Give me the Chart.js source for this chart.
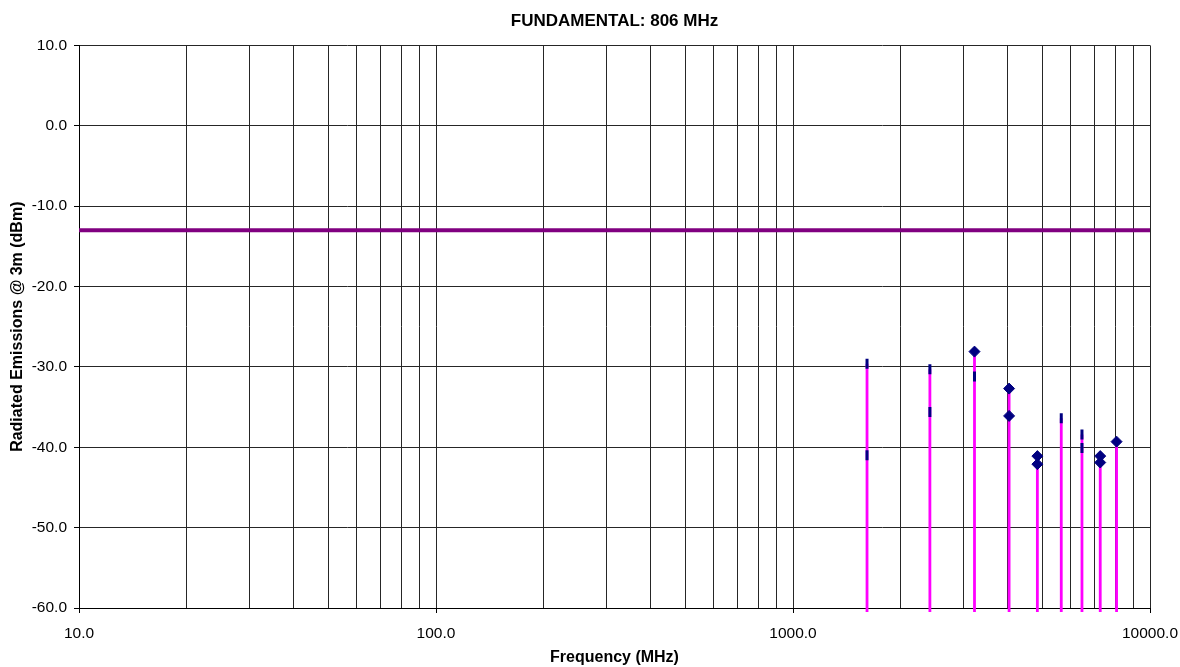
<!DOCTYPE html>
<html>
<head>
<meta charset="utf-8">
<title>FUNDAMENTAL: 806 MHz</title>
<script src="https://cdn.jsdelivr.net/npm/chart.js@4/dist/chart.umd.min.js"></script>
<style>
  html, body { margin: 0; padding: 0; background: #ffffff; }
  #wrap { width: 1180px; height: 667px; }
</style>
</head>
<body>
<div id="wrap"><canvas id="chart" width="1180" height="667"></canvas></div>
<script>
// Harmonics of the 806 MHz fundamental (MHz)
const harmonicsMHz = [1612, 2418, 3224, 4030, 4836, 5642, 6448, 7254, 8060];

// Readings shown with solid diamond markers (MHz, dBm)
const diamondFreqMHz = [3224, 4030, 4030, 4836, 4836, 7254, 7254, 8060];
const diamondLevel   = [-28.1, -32.7, -36.1, -41.1, -42.1, -41.1, -41.9, -39.3];

// Readings shown with short tick markers (MHz, dBm)
const tickFreqMHz = [1612, 1612, 2418, 2418, 3224, 5642, 6448, 6448];
const tickLevel   = [-29.6, -41.0, -30.3, -35.6, -31.2, -36.4, -38.4, -40.1];

// Emission limit (dBm) across the swept range
const limitFreqMHz = [10, 10000];
const limitLevel   = -13;

// Stems drop just past the bottom of the level axis
const stemFloor = -60.5;

// Axis ranges and tick values
const freqMin = 10, freqMax = 10000;
const levelMin = -60, levelMax = 10, levelStep = 10;
const freqGridMHz = [];
for (let d = 10; d < freqMax; d *= 10) {
  for (let m = 1; m < 10; m++) freqGridMHz.push(d * m);
}
freqGridMHz.push(freqMax);
const decadeLabels = [10, 100, 1000, 10000];

// Top of each stem is the highest reading at that harmonic
const allFreq = diamondFreqMHz.concat(tickFreqMHz);
const allLevel = diamondLevel.concat(tickLevel);
const stemTop = harmonicsMHz.map(f => {
  let best = -Infinity;
  allFreq.forEach((x, i) => { if (x === f && allLevel[i] > best) best = allLevel[i]; });
  return best;
});

const NAVY = '#000080';
const MAGENTA = '#ff00ff';
const PURPLE = '#800080';
const GRID = '#262626';

const stemSets = harmonicsMHz.map((f, i) => ({
  type: 'line',
  data: [{ x: f, y: stemTop[i] }, { x: f, y: stemFloor }],
  borderColor: MAGENTA,
  borderWidth: 2.8,
  pointRadius: 0,
  clip: false,
  order: 3
}));

const datasets = [
  {
    type: 'line',
    label: 'Limit',
    data: limitFreqMHz.map(x => ({ x: x, y: limitLevel })),
    borderColor: PURPLE,
    borderWidth: 4,
    pointRadius: 0,
    order: 4
  },
  ...stemSets,
  {
    type: 'scatter',
    label: 'Tick readings',
    data: tickFreqMHz.map((x, i) => ({ x: x, y: tickLevel[i] })),
    pointStyle: 'line',
    rotation: 90,
    pointRadius: 5,
    borderColor: NAVY,
    borderWidth: 3,
    order: 1
  },
  {
    type: 'scatter',
    label: 'Diamond readings',
    data: diamondFreqMHz.map((x, i) => ({ x: x, y: diamondLevel[i] })),
    pointStyle: 'rectRot',
    pointRadius: 5.5,
    backgroundColor: NAVY,
    borderColor: NAVY,
    borderWidth: 1,
    order: 0
  }
];

// Centre the chart title over the plot area rather than the whole canvas
const titleOverPlot = {
  id: 'titleOverPlot',
  afterLayout(chart) {
    const t = chart.titleBlock;
    if (t) {
      t.left = chart.chartArea.left;
      t.right = chart.chartArea.right;
      t.width = t.right - t.left;
    }
  }
};

const FONT = "'Liberation Sans', Arial, sans-serif";

new Chart(document.getElementById('chart'), {
  type: 'scatter',
  data: { datasets: datasets },
  plugins: [titleOverPlot],
  options: {
    responsive: false,
    animation: false,
    layout: { padding: { left: 0, right: 30, top: 0, bottom: 0 } },
    plugins: {
      legend: { display: false },
      tooltip: { enabled: false },
      title: {
        display: true,
        text: 'FUNDAMENTAL: 806 MHz',
        color: '#000',
        font: { family: FONT, size: 17, weight: 'bold' },
        padding: { top: 11, bottom: 14 }
      }
    },
    scales: {
      x: {
        type: 'logarithmic',
        min: freqMin,
        max: freqMax,
        afterBuildTicks(scale) {
          scale.ticks = freqGridMHz.map(v => ({ value: v }));
        },
        afterFit(scale) {
          scale.height = 59;
          scale.paddingLeft = 0;
          scale.paddingRight = 0;
        },
        ticks: {
          autoSkip: false,
          maxRotation: 0,
          padding: 11,
          color: '#000',
          font: { family: FONT, size: 15.5 },
          callback(value) {
            return decadeLabels.includes(value) ? Number(value).toFixed(1) : '';
          }
        },
        grid: {
          color: GRID,
          lineWidth: 1,
          tickLength: 5,
          tickColor(ctx) {
            return ctx.tick && decadeLabels.includes(ctx.tick.value) ? '#000' : 'rgba(0,0,0,0)';
          }
        },
        border: { color: '#000', width: 1 },
        title: {
          display: true,
          text: 'Frequency (MHz)',
          color: '#000',
          font: { family: FONT, size: 16, weight: 'bold' },
          padding: { top: 0, bottom: 0 }
        }
      },
      y: {
        type: 'linear',
        min: levelMin,
        max: levelMax,
        afterFit(scale) { scale.width = 79; },
        ticks: {
          stepSize: levelStep,
          padding: 7,
          color: '#000',
          font: { family: FONT, size: 15.5 },
          callback(value) { return Number(value).toFixed(1); }
        },
        grid: {
          color: GRID,
          lineWidth: 1,
          tickLength: 5,
          tickColor: '#000'
        },
        border: { color: '#000', width: 1 },
        title: {
          display: true,
          text: 'Radiated Emissions @ 3m (dBm)',
          color: '#000',
          font: { family: FONT, size: 16, weight: 'bold' },
          padding: { top: 8, bottom: 0 }
        }
      }
    }
  }
});
</script>
</body>
</html>
